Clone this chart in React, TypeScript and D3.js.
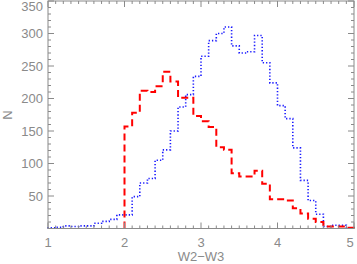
import * as d3 from 'd3';
import React from 'react';

// bin left edges are start + i*0.1
const blueStart = 1.0;
const blueCounts = [1, 2, 4, 3, 4, 4, 8, 11, 14, 21, 21, 49, 70, 77, 105, 121, 150, 187, 206, 234,
  265, 289, 300, 310, 281, 270, 272, 297, 255, 224, 189, 169, 124, 74, 43, 22, 3, 5, 5];
const redStart = 2.0;
const redCounts = [157, 178, 212, 210, 219, 241, 226, 201, 201, 173, 165, 156, 125, 121, 85, 80, 80,
  89, 69, 45, 45, 43, 31, 23, 15, 10, 3, 3, 3, 1];
const binWidth = 0.1;

const xTicks = [1, 2, 3, 4, 5];
const yTicks = [50, 100, 150, 200, 250, 300, 350];

const width = 357;
const height = 264;
const gray = '#8a8a8a';

function App() {
  const x = d3.scaleLinear().domain([1, 5]).range([48, 354]);
  const y = d3.scaleLinear().domain([0, 350]).range([228.5, 1]);

  const line = d3.line<[number, number]>()
    .x(d => x(d[0]))
    .y(d => y(d[1]))
    .curve(d3.curveStepAfter);

  const stepPoints = (start: number, counts: number[]): [number, number][] => {
    const pts: [number, number][] = [[start, 0]];
    counts.forEach((c, i) => pts.push([start + i * binWidth, c]));
    pts.push([start + counts.length * binWidth, 0]);
    return pts;
  };

  const xMinor = d3.range(10, 51).map(v => v / 10);
  const yMinor = d3.range(0, 351, 10);
  const [x0, x1] = x.range();
  const [y0, y1] = y.range();

  return (
    <svg width={width} height={height} style={{ position: 'absolute', left: 0, top: 0 }}
      fontFamily="'Liberation Sans', Arial, sans-serif">
      <path d={line(stepPoints(blueStart, blueCounts)) || ''} fill="none" stroke="#1a1aff"
        strokeWidth={1.6} strokeDasharray="1.3 2" />
      <path d={line(stepPoints(redStart, redCounts)) || ''} fill="none" stroke="#ff0000"
        strokeWidth={2} strokeDasharray="7 4" />

      <rect x={x0} y={y1} width={x1 - x0} height={y0 - y1} fill="none" stroke={gray} strokeWidth={1} />

      {xMinor.map((v, i) => {
        const len = Math.abs(v - Math.round(v)) < 1e-6 ? 6 : 3;
        return (
          <g key={'xm' + i} stroke={gray}>
            <line x1={x(v)} x2={x(v)} y1={y0} y2={y0 - len} />
            <line x1={x(v)} x2={x(v)} y1={y1} y2={y1 + len} />
          </g>
        );
      })}
      {yMinor.map((v, i) => {
        const len = v % 50 === 0 ? 6 : 3;
        return (
          <g key={'ym' + i} stroke={gray}>
            <line x1={x0} x2={x0 + len} y1={y(v)} y2={y(v)} />
            <line x1={x1} x2={x1 - len} y1={y(v)} y2={y(v)} />
          </g>
        );
      })}

      {xTicks.map(t => (
        <text key={'xl' + t} x={Math.min(x(t), 350)} y={247} textAnchor="middle" fontSize={13} fill={gray}>{t}</text>
      ))}
      {yTicks.map(t => (
        <text key={'yl' + t} x={43} y={Math.max(y(t), 6)} dy="0.35em" textAnchor="end" fontSize={13} fill={gray}>{t}</text>
      ))}
      <text x={(x0 + x1) / 2} y={261} textAnchor="middle" fontSize={13} fill={gray}>W2−W3</text>
      <text transform={`translate(12,115) rotate(-90)`} textAnchor="middle" fontSize={13} fill={gray}>N</text>
    </svg>
  );
}

export default App;
